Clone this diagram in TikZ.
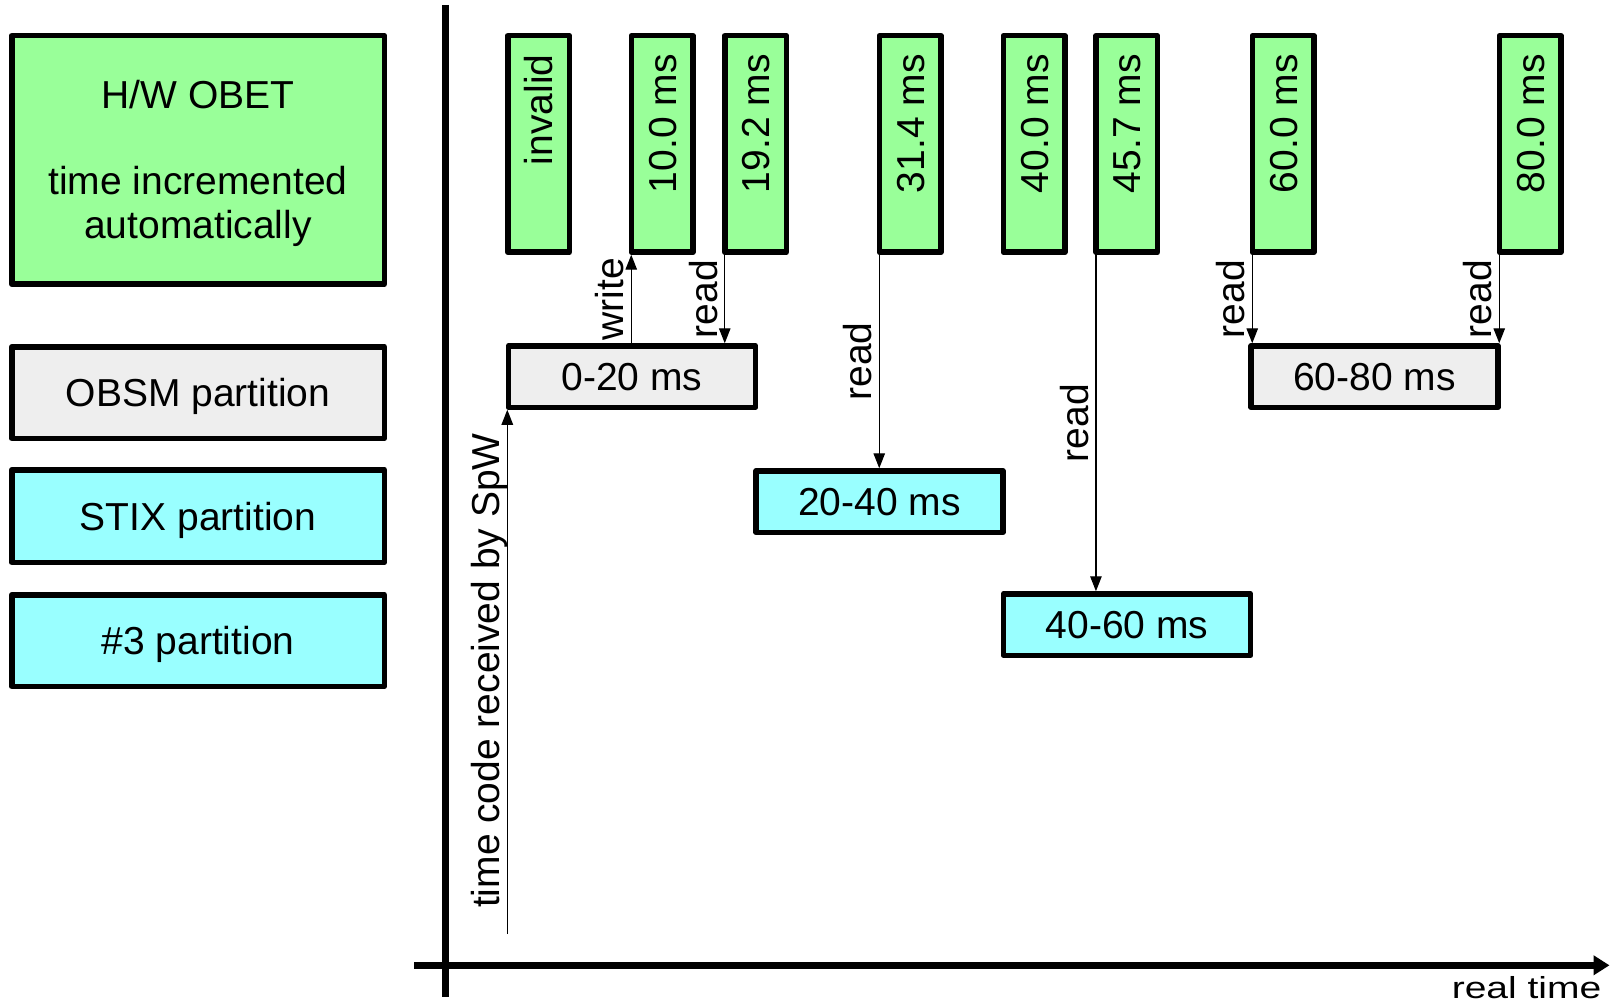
\documentclass[tikz,border=0pt]{standalone}
\usepackage{fontspec}
\setmainfont{Liberation Sans}
\usetikzlibrary{arrows.meta}
\definecolor{boxgreen}{HTML}{99FF99}
\definecolor{boxgray}{HTML}{EEEEEE}
\definecolor{boxcyan}{HTML}{99FFFF}
\begin{document}
\begin{tikzpicture}[x=1pt,y=-1pt,
  every node/.style={font=\fontsize{39}{43.3}\selectfont},
  box/.style={draw=black, line width=5.5pt, line join=round, inner sep=0pt, outer sep=0pt},
  legendbox/.style={box, minimum width=372.5pt},
  tickbox/.style={box, fill=boxgreen, minimum width=61.5pt, minimum height=216.5pt},
  partbox/.style={box, minimum width=247pt, minimum height=61.5pt, text height=28pt, text depth=0pt},
  vtext/.style={rotate=90, anchor=east, inner sep=0pt, text height=28pt, text depth=0pt},
  lbl/.style={rotate=90, anchor=south, inner sep=0pt, outer sep=7.5pt, text depth=0pt},
  thinarr/.style={line width=1.2pt, shorten >=2.5pt, -{Triangle[length=15pt,width=11.5pt]}},
  axisline/.style={line width=6.5pt}
]
\useasboundingbox (0,0) rectangle (1610,1003);

% legend
\node[legendbox, fill=boxgreen, minimum height=248.5pt] (l1) at (198,160) {};
\node[align=center, inner sep=0pt] (l1t) at (198,163) {H/W OBET\\[43.3pt]time incremented\\automatically};
\node[legendbox, fill=boxgray, minimum height=91.5pt, text height=28pt, text depth=0pt] (l2) at (198,392.5) {OBSM partition};
\node[legendbox, fill=boxcyan, minimum height=92.5pt, text height=28pt, text depth=0pt] (l3) at (198,516) {STIX partition};
\node[legendbox, fill=boxcyan, minimum height=91.5pt, text height=28pt, text depth=0pt] (l4) at (198,640.5) {\#3 partition};

% axes
\coordinate (yt) at (445.7,5);
\coordinate (yb) at (445.7,996.7);
\coordinate (xl) at (414,965.3);
\coordinate (xr) at (1609.5,965.3);
\draw[axisline] (yt) -- (yb);
\draw[axisline, -{Triangle[length=16pt,width=19pt]}] (xl) -- (xr);
\node[anchor=base east, inner sep=0pt] (rt) at (1601.5,998.5) {\scalebox{1}[0.78]{real time}};

% time stamps
\node[tickbox] (g0) at (538.5,144) {};
\node[tickbox] (g10) at (662,144) {};
\node[tickbox] (g19) at (755.5,144) {};
\node[tickbox] (g31) at (910,144) {};
\node[tickbox] (g40) at (1034,144) {};
\node[tickbox] (g45) at (1126.7,144) {};
\node[tickbox] (g60) at (1283,144) {};
\node[tickbox] (g80) at (1530,144) {};
\node[vtext] (t0) at ([yshift=-18.5pt]g0.north) {invalid};
\node[vtext] (t10) at ([yshift=-18.5pt]g10.north) {10.0 ms};
\node[vtext] (t19) at ([yshift=-18.5pt]g19.north) {19.2 ms};
\node[vtext] (t31) at ([yshift=-18.5pt]g31.north) {31.4 ms};
\node[vtext] (t40) at ([yshift=-18.5pt]g40.north) {40.0 ms};
\node[vtext] (t45) at ([yshift=-18.5pt]g45.north) {45.7 ms};
\node[vtext] (t60) at ([yshift=-18.5pt]g60.north) {60.0 ms};
\node[vtext] (t80) at ([yshift=-18.5pt]g80.north) {80.0 ms};

% partitions
\node[partbox, fill=boxgray] (p1) at (632,376.5) {0-20 ms};
\node[partbox, fill=boxcyan] (p2) at (879.5,501.5) {20-40 ms};
\node[partbox, fill=boxcyan] (p3) at (1127,624.5) {40-60 ms};
\node[partbox, fill=boxgray] (p4) at (1374.5,376.5) {60-80 ms};

% connectors
\draw[thinarr] (g10.south west |- p1.north) -- node[lbl]{write} (g10.south west);
\draw[thinarr] (g19.south west) -- node[lbl]{read} (g19.south west |- p1.north);
\draw[thinarr] (g31.south west) -- node[lbl]{read} (g31.south west |- p2.north);
\draw[thinarr] (g45.south west) -- node[lbl]{read} (g45.south west |- p3.north);
\draw[thinarr] (g60.south west) -- node[lbl]{read} (g60.south west |- p4.north);
\draw[thinarr] (g80.south west) -- node[lbl]{read} (g80.south west |- p4.north);
\coordinate (tc) at (507.3,934);
\draw[thinarr] (tc) -- node[lbl]{time code received by SpW} (tc |- p1.south);
\end{tikzpicture}
\end{document}
